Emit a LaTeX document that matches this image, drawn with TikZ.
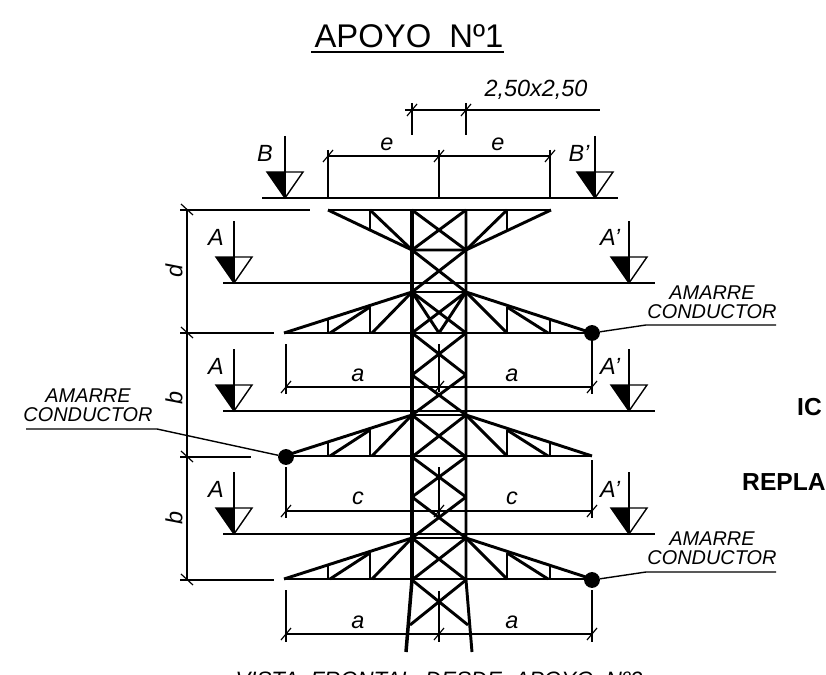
\documentclass[tikz,border=0pt]{standalone}
\usepackage{fontspec}
\setmainfont{Liberation Sans}
\begin{document}
\begin{tikzpicture}[x=0.03cm,y=-0.03cm,
  tower/.style={line width=2.5pt},
  dimline/.style={line width=1pt},
  secline/.style={line width=1.2pt},
  lbl/.style={font=\itshape\fontsize{20}{20}\selectfont,inner sep=0pt},
  cond/.style={font=\itshape\fontsize{17}{16.5}\selectfont,inner sep=0pt,align=center},
  dot/.style={circle,fill=black,inner sep=0pt,minimum size=13.5pt},
  cuttext/.style={anchor=west,inner sep=0pt,font=\bfseries\fontsize{21}{21}\selectfont}]
\useasboundingbox (0,0) rectangle (826,675);
\clip (0,0) rectangle (826,675);
% title
\node[inner sep=0pt,font=\fontsize{28}{28}\selectfont] (title) at (409,36) {APOYO\ \ Nº1};
\draw[line width=1.8pt] (311,52) -- (504,52);
% the tower
\begin{scope}[tower]
\draw[line width=3pt] (412,210) -- (412,580) -- (406,652);
\draw (466,210) -- (466,580) -- (472,652);
% top arm
\draw (328,210) -- (551,210);
\draw (328,210) -- (412,250) -- (466,250) -- (551,210);
\draw (370,210) -- (370,230);
\draw (507,210) -- (507,230);
\draw (370,210) -- (412,250);
\draw (507,210) -- (466,250);
\draw (412,210) -- (466,250);
\draw (466,210) -- (412,250);
\draw (412,250) -- (466,292);
\draw (466,250) -- (412,292);
% the three lower arms
\foreach \y in {292,415,538}{
  \draw (412,\y) -- (466,\y);
  \draw (284,\y+41) -- (412,\y) (466,\y) -- (592,\y+41);
  \draw (284,\y+41) -- (592,\y+41);
  \draw (328,\y+28) -- (328,\y+41) (370,\y+15) -- (370,\y+41);
  \draw (550,\y+28) -- (550,\y+41) (507,\y+15) -- (507,\y+41);
  \draw (370,\y+15) -- (330,\y+41) (412,\y) -- (372,\y+41);
  \draw (507,\y+15) -- (548,\y+41) (466,\y) -- (507,\y+41);
}
% crosses
\draw (412,292) -- (439,333) (466,292) -- (439,333);
\draw (412,292) -- (466,333) (466,292) -- (412,333);
\foreach \ya/\yb in {333/375,375/415,415/457,457/497,497/538,538/580}{
  \draw (412,\ya) -- (466,\yb);
  \draw (466,\ya) -- (412,\yb);
}
\draw (412,580) -- (468,625);
\draw (466,580) -- (410,625);
\end{scope}
% dimensions on top
\begin{scope}[dimline]
\draw (405,110) -- (600,110);
\draw (412,103) -- (412,135);
\draw (466,103) -- (466,135);
\draw (328,156) -- (551,156);
\draw (328,150) -- (328,198);
\draw (439,150) -- (439,198);
\draw (550,150) -- (550,198);
% dimensions below the arms
\draw (286,387) -- (592,387);
\draw (286,344) -- (286,394);
\draw (592,333) -- (592,394);
\draw (439,344) -- (439,392);
\draw (286,511) -- (592,511);
\draw (286,467) -- (286,518);
\draw (592,460) -- (592,518);
\draw (439,467) -- (439,516);
\draw (286,634) -- (592,634);
\draw (286,590) -- (286,642);
\draw (592,590) -- (592,642);
\draw (439,591) -- (439,642);
% dimensions on the left
\draw (187,210) -- (187,580);
\draw (180,210) -- (310,210);
\draw[line width=1.3pt] (180,333) -- (274,333);
\draw (180,457) -- (251,457);
\draw (180,580) -- (274,580);
% ticks
\foreach \x/\y in {412/110,466/110,328/156,439/156,550/156,
  286/387,439/387,592/387,286/511,439/511,592/511,286/634,439/634,592/634}{
  \draw (\x-5,\y+6) -- (\x+5,\y-6);
}
\foreach \y in {210,333,457,580}{
  \draw (\y*0+181,\y-6) -- (\y*0+193,\y+5);
}
\end{scope}
% section marks
\foreach \x/\y/\e/\w in {285/198/262/618,234/283/223/655,234/411/223/655,234/534/223/655}{
  \draw[secline] (\e,\y) -- (\w,\y);
}
\foreach \x/\y in {285/198,595/198,234/283,629/283,234/411,629/411,234/534,629/534}{
  \draw[secline] (\x,\y-62) -- (\x,\y);
  \fill (\x-18,\y-26) -- (\x,\y-26) -- (\x,\y) -- cycle;
  \draw[secline] (\x-18,\y-26) -- (\x+18,\y-26) -- (\x,\y) -- cycle;
}
% labels
\node[lbl] (lblB) at (265,153) {B};
\node[lbl] (lblBp) at (579,153) {B'};
\foreach \y/\n in {237/1,366/2,489/3}{
  \node[lbl] (lblA\n) at (216,\y) {A};
  \node[lbl] (lblAp\n) at (610,\y) {A'};
}
\node[lbl] (lblplate) at (536,90) {2,50x2,50};
\node[lbl] (lble1) at (387,144) {e};
\node[lbl] (lble2) at (498,144) {e};
\node[lbl] (lbla1) at (358,375) {a};
\node[lbl] (lbla2) at (512,375) {a};
\node[lbl] (lblc1) at (358,498) {c};
\node[lbl] (lblc2) at (512,498) {c};
\node[lbl] (lbla3) at (358,622) {a};
\node[lbl] (lbla4) at (512,622) {a};
\node[lbl,rotate=90] (lbld) at (174,271) {d};
\node[lbl,rotate=90] (lblb1) at (174,398) {b};
\node[lbl,rotate=90] (lblb2) at (174,518) {b};
% conductor ties
\node[dot] (dot1) at (592,333) {};
\node[dot] (dot2) at (286,457) {};
\node[dot] (dot3) at (592,580) {};
\coordinate (kn1) at (646,325);
\coordinate (end1) at (776,325);
\coordinate (kn2) at (157,429);
\coordinate (end2) at (26,429);
\coordinate (kn3) at (646,572);
\coordinate (end3) at (776,572);
\draw[secline] (dot1) -- (kn1) -- (end1);
\draw[secline] (dot2) -- (kn2) -- (end2);
\draw[secline] (dot3) -- (kn3) -- (end3);
\node[cond] (tie1) at (712,302) {AMARRE\\CONDUCTOR};
\node[cond] (tie2) at (88,405) {AMARRE\\CONDUCTOR};
\node[cond] (tie3) at (712,548) {AMARRE\\CONDUCTOR};
% cut off texts
\node[cuttext] (textIC) at (797,407) {IC};
\node[cuttext] (textREPLA) at (742,482) {REPLA};
\node[lbl,font=\itshape\fontsize{19}{19}\selectfont] (view) at (439,680) {VISTA\ \ FRONTAL\ \ DESDE\ \ APOYO\ \ Nº2};
\end{tikzpicture}
\end{document}
